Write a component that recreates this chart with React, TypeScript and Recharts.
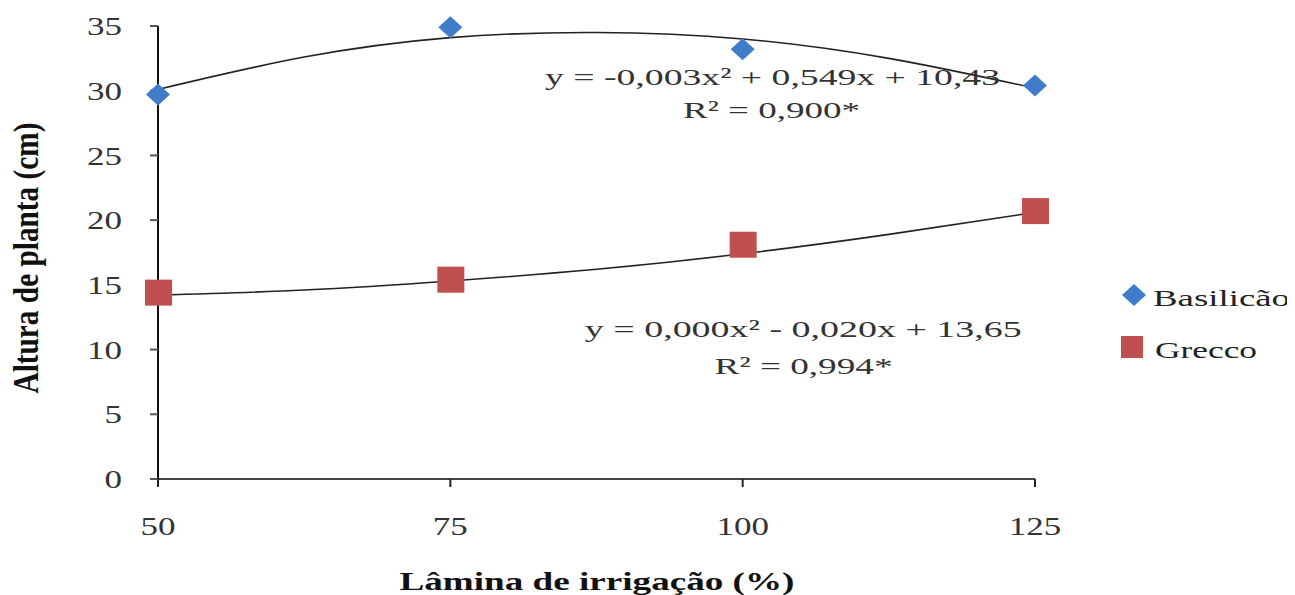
import { ComposedChart, Scatter, Line, XAxis, YAxis, ReferenceDot, Label } from "recharts";

const xTicks = [50, 75, 100, 125];
const yTicks = [0, 5, 10, 15, 20, 25, 30, 35];

const laminas = [50, 75, 100, 125];
const basilicao = [29.7, 34.9, 33.2, 30.4];
const grecco = [14.4, 15.4, 18.1, 20.7];

// trend curves
const trendX = [50, 62.5, 75, 87.5, 100, 112.5, 125];
const basilTrend = [30.1, 32.6, 34.1, 34.5, 34.0, 32.5, 30.2];
const greccoTrend = [14.2, 14.6, 15.3, 16.2, 17.4, 18.9, 20.6];

const basilPts = laminas.map((x, i) => ({ x, y: basilicao[i] }));
const greccoPts = laminas.map((x, i) => ({ x, y: grecco[i] }));
const basilLine = trendX.map((x, i) => ({ x, y: basilTrend[i] }));
const greccoLine = trendX.map((x, i) => ({ x, y: greccoTrend[i] }));

const FONT = "'Liberation Serif', 'Times New Roman', serif";
const BLUE = "#3F7DCA";
const RED = "#C0504D";

const Diamond = (p: any) => (
  <path
    d={`M${p.cx},${p.cy - 11} L${p.cx + 12},${p.cy} L${p.cx},${p.cy + 11} L${p.cx - 12},${p.cy} Z`}
    fill={BLUE}
  />
);

const Square = (p: any) => <rect x={p.cx - 13} y={p.cy - 13} width={27} height={26} fill={RED} />;

const XTick = (p: any) => {
  const s = String(p.payload.value);
  const len = s.length * 17.5;
  return (
    <text x={p.x - len / 2} y={p.y} dy="0.71em" fontSize={26} fontFamily={FONT} fill="#333"
      textLength={len} lengthAdjust="spacingAndGlyphs">{s}</text>
  );
};

const YTick = (p: any) => {
  const s = String(p.payload.value);
  const len = s.length * 17.5;
  return (
    <text x={p.x - len} y={p.y} dy="0.35em" fontSize={26} fontFamily={FONT} fill="#333"
      textLength={len} lengthAdjust="spacingAndGlyphs">{s}</text>
  );
};

const annot = (text: string, len: number) => (p: any) => (
  <text x={p.cx} y={p.cy} fontSize={24} fontFamily={FONT} fill="#333"
    textLength={len} lengthAdjust="spacingAndGlyphs">{text}</text>
);

export default function App() {
  return (
    <div style={{ position: "relative", width: 1287, height: 587 }}>
      <ComposedChart width={1287} height={587} margin={{ top: 18, right: 260, bottom: 0, left: 30 }}>
        <XAxis
          dataKey="x"
          type="number"
          domain={[50, 125]}
          ticks={xTicks}
          height={116}
          tickSize={8}
          tickMargin={30}
          tick={XTick}
          axisLine={{ stroke: "#444", strokeWidth: 2 }}
          tickLine={{ stroke: "#222", strokeWidth: 2 }}
        >
          <Label
            content={(p: any) => (
              <text x={p.viewBox.x + p.viewBox.width / 2 - 197} y={p.viewBox.y + 111} fontSize={26}
                fontWeight="bold" fontFamily={FONT} fill="#111" textLength={395} lengthAdjust="spacingAndGlyphs">
                Lâmina de irrigação (%)
              </text>
            )}
          />
        </XAxis>
        <YAxis
          dataKey="y"
          type="number"
          domain={[0, 35]}
          ticks={yTicks}
          width={120}
          tickSize={8}
          tickMargin={28}
          tick={YTick}
          axisLine={{ stroke: "#111", strokeWidth: 2 }}
          tickLine={{ stroke: "#555", strokeWidth: 2 }}
        >
          <Label
            content={() => (
              <text x={30} y={250} transform="rotate(-90 30 250)" textAnchor="middle" fontSize={35}
                fontWeight="bold" fontFamily={FONT} fill="#111" textLength={271} lengthAdjust="spacingAndGlyphs">
                Altura de planta (cm)
              </text>
            )}
          />
        </YAxis>
        <Scatter name="Basilicão" data={basilPts} shape={Diamond} isAnimationActive={false} />
        <Scatter name="Grecco" data={greccoPts} shape={Square} isAnimationActive={false} />
        <Line data={basilLine} dataKey="y" type="natural" dot={false} stroke="#222" strokeWidth={1.6}
          isAnimationActive={false} />
        <Line data={greccoLine} dataKey="y" type="natural" dot={false} stroke="#222" strokeWidth={1.6}
          isAnimationActive={false} />
        <ReferenceDot x={83.1} y={30.45} r={0} shape={annot("y = -0,003x² + 0,549x + 10,43", 455)} />
        <ReferenceDot x={94.9} y={27.9} r={0} shape={annot("R² = 0,900*", 177)} />
        <ReferenceDot x={86.5} y={10.97} r={0} shape={annot("y = 0,000x² - 0,020x + 13,65", 437)} />
        <ReferenceDot x={97.6} y={8.11} r={0} shape={annot("R² = 0,994*", 178)} />
      </ComposedChart>
      <svg style={{ position: "absolute", left: 1100, top: 252 }} width={187} height={110}>
        <path d="M26,24 L38,35 L26,46 L14,35 Z" fill={BLUE} />
        <text x={45} y={46} fontSize={24} fontFamily={FONT} fill="#222" textLength={137}
          lengthAdjust="spacingAndGlyphs">Basilicão</text>
        <rect x={13} y={76} width={22} height={22} fill={RED} />
        <text x={47} y={98} fontSize={24} fontFamily={FONT} fill="#222" textLength={102}
          lengthAdjust="spacingAndGlyphs">Grecco</text>
      </svg>
    </div>
  );
}
